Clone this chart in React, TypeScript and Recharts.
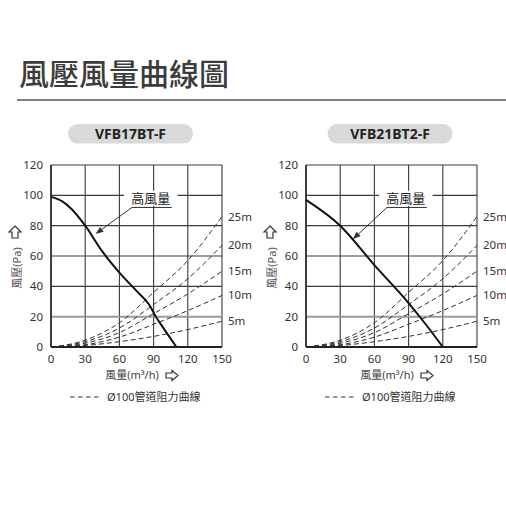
import React from 'react';
import {
  LineChart,
  Line,
  XAxis,
  YAxis,
  CartesianGrid,
  ReferenceLine,
  ReferenceArea,
  LabelList,
} from 'recharts';

// axis ticks
const X_TICKS = [0, 30, 60, 90, 120, 150];
const Y_TICKS = [0, 20, 40, 60, 80, 100, 120];

// Ø100 duct resistance curves (flow m3/h -> Pa)
const PIPE_FLOW = [0, 30, 60, 90, 120, 150];
const PIPE_5M = [0, 1, 3.5, 7, 11.5, 17];
const PIPE_10M = [0, 1.5, 6.5, 15, 24, 34];
const PIPE_15M = [0, 2.5, 9.5, 22, 35, 50];
const PIPE_20M = [0, 3.5, 12.5, 28, 45, 67];
const PIPE_25M = [0, 4.5, 16, 36, 57, 86];
const PIPE_NAMES = ['5m', '10m', '15m', '20m', '25m'];

// fan curves (高風量)
const FAN_A_FLOW = [0, 10, 18, 30, 45, 60, 75, 86, 92, 100, 110];
const FAN_A_PRESSURE = [99, 96, 91, 80, 63, 49, 37, 28, 20, 11, 0];
const FAN_B_FLOW = [0, 30, 60, 90, 105, 120];
const FAN_B_PRESSURE = [97, 80, 54, 29, 15, 0];

const toPoints = (xs: number[], ys: number[]) => xs.map((x, i) => ({ x, y: ys[i] }));

const pipeSeries = [PIPE_5M, PIPE_10M, PIPE_15M, PIPE_20M, PIPE_25M].map((ys, i) => ({
  name: PIPE_NAMES[i],
  data: toPoints(PIPE_FLOW, ys),
}));

const FONT = "'Noto Sans', 'Noto Sans CJK TC', sans-serif";

const endLabel = (name: string) => (props: any) => {
  const { x, y, index } = props;
  if (index !== PIPE_FLOW.length - 1) return null;
  return (
    <text x={x + 6} y={y} dy="0.35em" fontSize={11.5} fill="#333">
      {name}
    </text>
  );
};

const ArrowShape = (props: any) => {
  const { x1, y1, x2, y2 } = props;
  const ang = Math.atan2(y2 - y1, x2 - x1);
  const len = 8;
  const w = 3;
  const bx = x2 - len * Math.cos(ang);
  const by = y2 - len * Math.sin(ang);
  const px = -Math.sin(ang) * w;
  const py = Math.cos(ang) * w;
  return (
    <g>
      <line x1={x1} y1={y1} x2={bx} y2={by} stroke="#333" strokeWidth={1} />
      <polygon points={`${x2},${y2} ${bx + px},${by + py} ${bx - px},${by - py}`} fill="#333" />
    </g>
  );
};

function FanPanel({ offset, pillX, model, fan, arrowTo }: {
  offset: number;
  pillX: number;
  model: string;
  fan: { x: number; y: number }[];
  arrowTo: { x: number; y: number };
}) {
  return (
    <div style={{ position: 'absolute', left: offset, top: 0, width: 253, height: 420 }}>
      <LineChart width={253} height={420} margin={{ top: 165, right: 31, bottom: 43, left: 1 }}>
        <CartesianGrid stroke="#3a3a3a" strokeWidth={1.1} />
        <XAxis
          type="number"
          dataKey="x"
          domain={[0, 150]}
          ticks={X_TICKS}
          tickLine={false}
          axisLine={{ stroke: '#222', strokeWidth: 2 }}
          tick={{ fill: '#333', fontSize: 11.5 }}
          height={30}
        />
        <YAxis
          type="number"
          dataKey="y"
          domain={[0, 120]}
          ticks={Y_TICKS}
          tickLine={false}
          axisLine={{ stroke: '#222', strokeWidth: 1.5 }}
          tick={{ fill: '#333', fontSize: 11.5 }}
          width={50}
        />
        <ReferenceLine y={20} stroke="#9a9a9a" strokeWidth={1.6} />
        <ReferenceArea x1={64} x2={111} y1={93} y2={103} fill="#fff" fillOpacity={1} stroke="none"
          label={{ value: '高風量', position: 'center', fill: '#222', fontSize: 13 }} />
        <ReferenceLine segment={[{ x: 71, y: 92 }, { x: 106, y: 92 }]} stroke="#333" strokeWidth={1} />
        <ReferenceLine segment={[{ x: 71, y: 92 }, arrowTo]} shape={ArrowShape} />
        {pipeSeries.map((s) => (
          <Line
            key={s.name}
            data={s.data}
            dataKey="y"
            type="monotone"
            stroke="#333"
            strokeWidth={1}
            strokeDasharray="5 3"
            dot={false}
            isAnimationActive={false}
          >
            <LabelList dataKey="y" content={endLabel(s.name)} />
          </Line>
        ))}
        <Line
          data={fan}
          dataKey="y"
          type="monotone"
          stroke="#111"
          strokeWidth={2}
          dot={false}
          isAnimationActive={false}
        />
      </LineChart>
      <svg width={253} height={420} style={{ position: 'absolute', left: 0, top: 0, pointerEvents: 'none' }}>
        <rect x={pillX - 62.5} y={124} width={125} height={19.5} rx={9.75} fill="#d9d9d9" />
        <text x={pillX} y={134} dy="0.35em" textAnchor="middle" fontSize={14} fontWeight={700} fill="#222">
          {model}
        </text>
        <polygon points="15,226 21,232 18,232 18,238 12,238 12,232 9,232" fill="none" stroke="#333" strokeWidth={1.2} />
        <text x={17} y={268} dy="0.35em" textAnchor="middle" fontSize={11} fill="#555" transform="rotate(-90 17 268)">
          風壓(Pa)
        </text>
        <text x={132} y={375} dy="0.35em" textAnchor="middle" fontSize={11} fill="#444">
          風量(m³/h)
        </text>
        <polygon points="166,373 172,373 172,370.5 178,375.5 172,380.5 172,378 166,378" fill="none" stroke="#333" strokeWidth={1.2} />
        <line x1={70} y1={397} x2={101} y2={397} stroke="#333" strokeWidth={1} strokeDasharray="4.5 3.5" />
        <text x={107} y={397} dy="0.35em" fontSize={11} fill="#333">
          Ø100管道阻力曲線
        </text>
      </svg>
    </div>
  );
}

export default function App() {
  return (
    <div
      style={{
        position: 'absolute',
        left: 0,
        top: 0,
        width: 506,
        height: 506,
        overflow: 'hidden',
        background: '#fff',
        fontFamily: FONT,
      }}
    >
      <svg width={506} height={110} style={{ position: 'absolute', left: 0, top: 0 }}>
        <text x={19} y={85} fontSize={30} fontWeight={500} fill="#3c3c3c">
          風壓風量曲線圖
        </text>
        <line x1={17} y1={100} x2={506} y2={100} stroke="#555" strokeWidth={1.5} />
      </svg>
      <FanPanel
        offset={0}
        pillX={130.5}
        model="VFB17BT-F"
        fan={toPoints(FAN_A_FLOW, FAN_A_PRESSURE)}
        arrowTo={{ x: 39, y: 74.5 }}
      />
      <FanPanel
        offset={255}
        pillX={135}
        model="VFB21BT2-F"
        fan={toPoints(FAN_B_FLOW, FAN_B_PRESSURE)}
        arrowTo={{ x: 41, y: 71 }}
      />
    </div>
  );
}
